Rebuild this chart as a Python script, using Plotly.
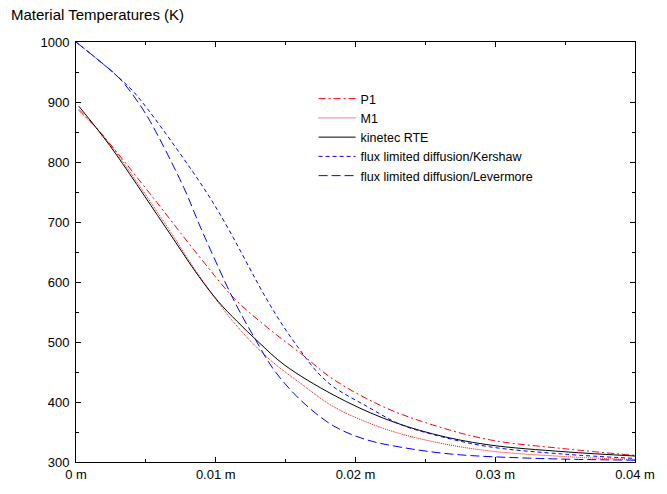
import plotly.graph_objects as go

# ---- data (x in metres, T in K) ----
p1_x = [0.0002, 0.0019, 0.0052, 0.0088, 0.01135, 0.0137, 0.01608, 0.0184, 0.0220, 0.0255, 0.0296, 0.0350, 0.0400]
p1_t = [888, 845, 750, 643, 572, 524, 481, 438, 392, 362, 337, 322, 311]

m1_x = [0.0002, 0.0019, 0.0063, 0.0088, 0.01135, 0.0138, 0.01608, 0.01844, 0.0220, 0.02553, 0.0294, 0.0350, 0.0400]
m1_t = [885, 845, 700, 611, 531, 472, 431, 392, 356, 334, 319, 309, 304]

rte_x = [0.0002, 0.0024, 0.0063, 0.0088, 0.0102, 0.0115, 0.0131, 0.0149, 0.0184, 0.0220, 0.0255, 0.0294, 0.0350, 0.0400]
rte_t = [893, 828, 695, 609, 567, 535, 499, 462, 412, 373, 347, 329, 317, 310]

ker_x = [0.0, 0.0017, 0.0030, 0.0040, 0.0052, 0.0091, 0.0107, 0.0136, 0.0149, 0.01608, 0.01726, 0.01844, 0.0208, 0.02317, 0.02553, 0.0294, 0.0350, 0.0400]
ker_t = [1000, 968, 942, 920, 886, 758, 697, 573, 524, 485, 450, 425, 393, 363, 346, 326, 313, 306]

lev_x = [0.0, 0.0017, 0.0030, 0.0040, 0.0052, 0.0077, 0.0088, 0.0095, 0.01135, 0.01277, 0.01418, 0.01608, 0.01844, 0.0208, 0.02317, 0.02695, 0.0330, 0.0400]
lev_t = [1000, 968, 942, 914, 872, 758, 697, 660, 567, 507, 453, 403, 360, 337, 325, 313, 306, 303]

y_ticks_step = 100

series = [
    ("P1", p1_x, p1_t, "#ff0000", "7px,3px,2px,3px"),
    ("M1", m1_x, m1_t, "#ff0000", "1px,1px"),
    ("kinetec RTE", rte_x, rte_t, "#000000", "solid"),
    ("flux limited diffusion/Kershaw", ker_x, ker_t, "#0000ff", "4px,3px"),
    ("flux limited diffusion/Levermore", lev_x, lev_t, "#0000ff", "9px,4px"),
]

fig = go.Figure()
for name, xs, ts, col, dash in series:
    fig.add_trace(go.Scatter(
        x=xs, y=ts, name=name, mode="lines",
        line=dict(color=col, width=1, dash=dash, shape="spline", smoothing=1.0),
    ))

axis_common = dict(
    showgrid=False, zeroline=False, showline=True, linecolor="black", linewidth=1,
    mirror="ticks", ticks="inside", ticklen=5, tickwidth=1, tickcolor="black",
    tickfont=dict(family="Liberation Sans, Arial, sans-serif", size=13, color="black"),
)

fig.update_xaxes(
    range=[0, 0.04], tickmode="linear", tick0=0, dtick=0.01, ticksuffix=" m",
    minor=dict(dtick=0.005, ticks="inside", ticklen=3, tickcolor="black", showgrid=False),
    **axis_common,
)
fig.update_yaxes(
    range=[300, 1000], tickmode="linear", tick0=300, dtick=y_ticks_step,
    ticklabelstandoff=3,
    minor=dict(dtick=50, ticks="inside", ticklen=3, tickcolor="black", showgrid=False),
    **axis_common,
)

fig.update_layout(
    width=667, height=494,
    margin=dict(l=76, r=27, t=42, b=24),
    paper_bgcolor="white", plot_bgcolor="white",
    font=dict(family="Liberation Sans, Arial, sans-serif", size=12, color="black"),
    showlegend=True,
    legend=dict(x=0.425, y=0.90, xanchor="left", yanchor="top",
                bgcolor="rgba(0,0,0,0)", borderwidth=0,
                font=dict(size=12.5), tracegroupgap=0, itemwidth=37),
    annotations=[dict(text="Material Temperatures (K)", xref="paper", yref="paper",
                      x=-0.1206, y=1.0654, xanchor="left", yanchor="middle",
                      showarrow=False, font=dict(size=15))],
)

fig.write_html("out.html")
